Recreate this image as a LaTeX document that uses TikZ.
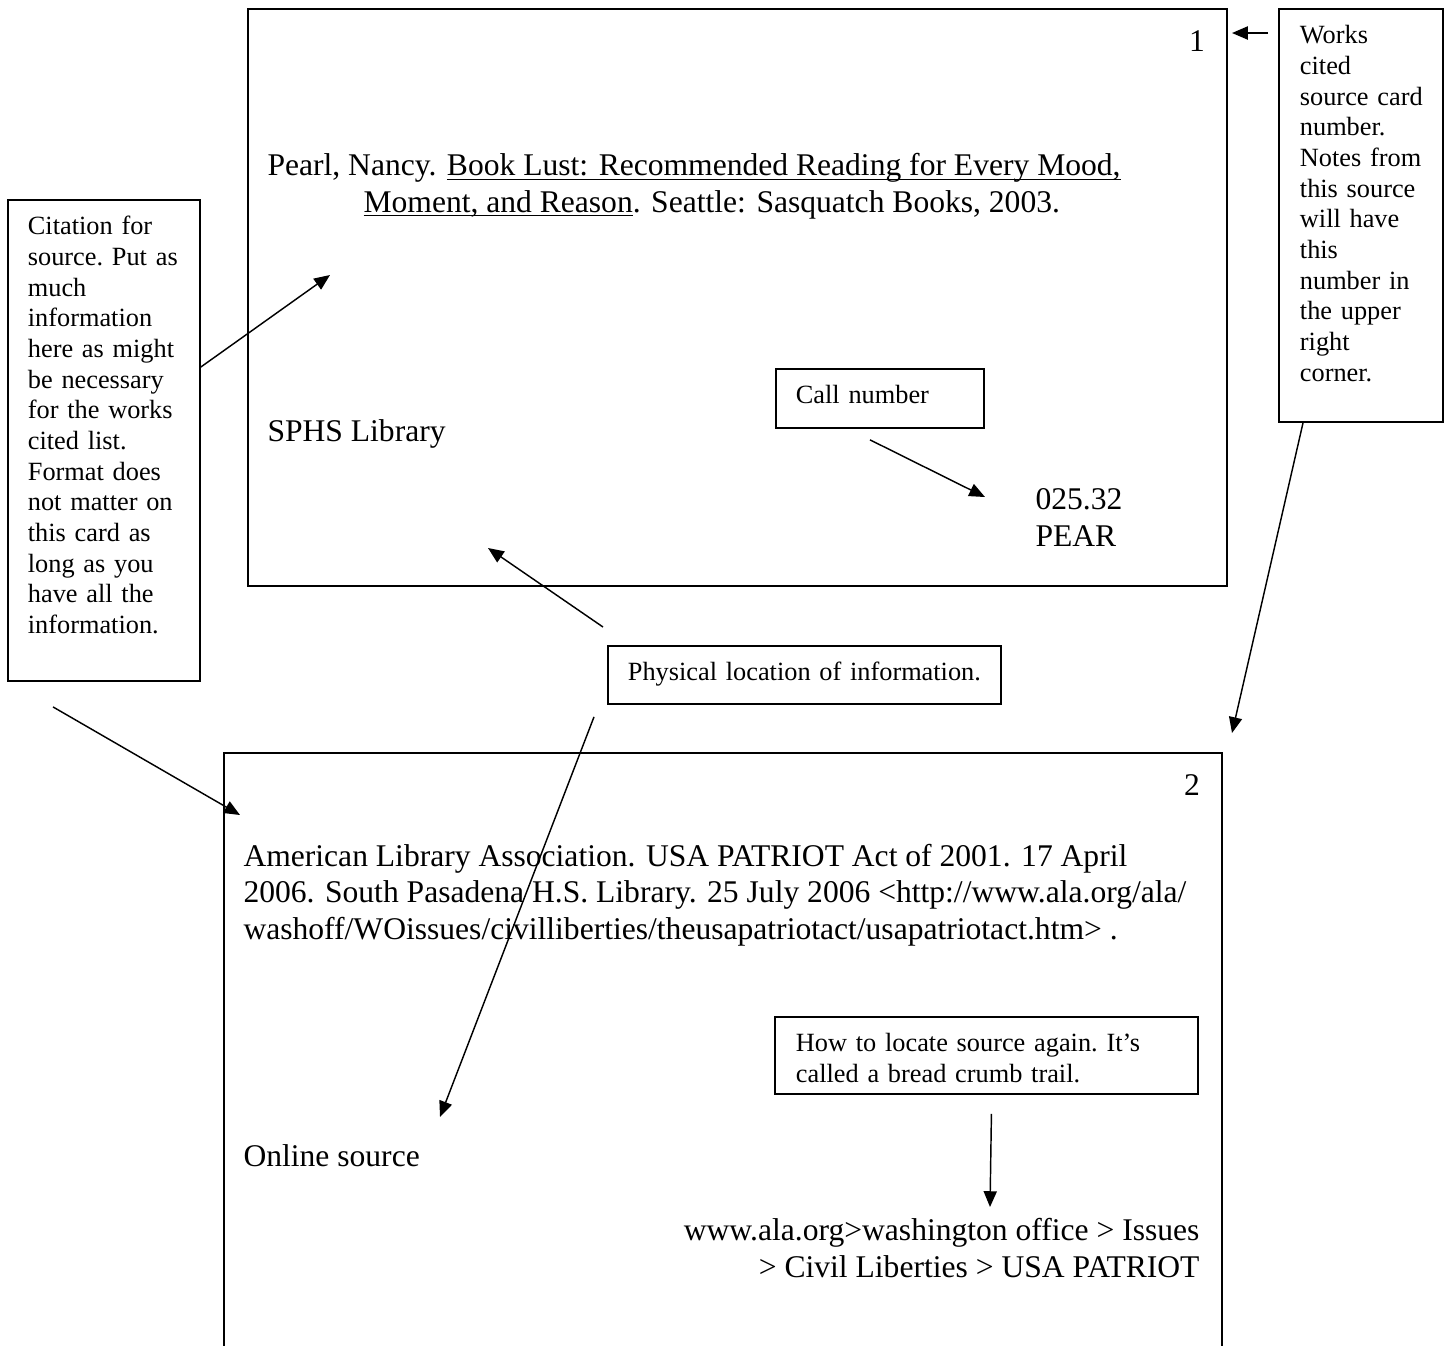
\documentclass[tikz,border=0pt]{standalone}
\usepackage{fontspec}
\setmainfont{Liberation Serif}
\usetikzlibrary{arrows.meta, positioning}
\tikzstyle{sheet}=[x=0.38pt, y=-0.38pt, >={Triangle[length=6pt, width=5pt]}]
\tikzstyle{card}=[draw, line width=0.75pt, inner sep=0pt, anchor=north west]
\tikzstyle{cardtext}=[inner sep=0pt, align=left, font=\fontsize{12}{13.8}\selectfont]
\tikzstyle{callout}=[draw, line width=0.7pt, anchor=north west, align=left,
  inner xsep=7.6pt, inner ysep=0pt, text height=13.3pt,
  font=\fontsize{10}{11.65}\selectfont\frenchspacing]
\tikzstyle{pointer}=[->, line width=0.55pt]

\begin{document}
\begin{tikzpicture}[sheet]
  \useasboundingbox (0,0) rectangle (1453,1345);
  \clip (0,0) rectangle (1453,1345);

  % the two source cards
  \node[card, minimum width=372pt, minimum height=219.3pt] (card1) at (247,8) {};
  \node[card, minimum width=379.2pt, minimum height=228pt] (card2) at (223,752) {};

  % card 1 (base = last line)
  \node[cardtext, anchor=base]      (num1)   at (1197,51)  {1};
  \node[cardtext, anchor=base west] (pearl)  at (267,212)  {Pearl, Nancy. \underline{\smash{Book Lust: Recommended Reading for Every Mood,}}\\
    \hspace*{36.5pt}\underline{\smash{Moment, and Reason}}. Seattle: Sasquatch Books, 2003.};
  \node[cardtext, anchor=base west] (sphs)   at (267,441)  {SPHS Library};
  \node[cardtext, anchor=base west] (callno) at (1035,546) {025.32\\PEAR};

  % card 2
  \node[cardtext, anchor=base]      (num2)   at (1192,795) {2};
  \node[cardtext, anchor=base west] (ala)    at (243,939)  {American Library Association. USA PATRIOT Act of 2001. 17 April\\
    2006. South Pasadena H.S. Library. 25 July 2006 <http://www.ala.org/ala/\\
    washoff/WOissues/civilliberties/theusapatriotact/usapatriotact.htm> .};
  \node[cardtext, anchor=base west] (online) at (243,1166) {Online source};
  \node[cardtext, anchor=base east, align=right] (trail) at (1200,1277) {www.ala.org>washington office > Issues\\
    > Civil Liberties > USA PATRIOT};

  % notes round the cards
  \node[callout, text width=57.76pt, text depth=169.5pt] (citebox) at (7,199)
    {Citation for\\source. Put~as\\much\\information\\here as~might\\be necessary\\for the~works\\cited list.\\Format does\\not matter~on\\this card as\\long as you\\have all the\\information.};
  \node[callout, inner xsep=7.98pt, text width=46.36pt, text depth=143.64pt] (worksbox) at (1278,8)
    {Works\\cited\\source~card\\number.\\Notes~from\\this~source\\will have\\this\\number in\\the upper\\right\\corner.};
  \node[callout, text width=63.84pt, text depth=9.12pt] (callbox) at (775,368) {Call number};
  \node[callout, text width=134.14pt, text depth=8.74pt] (physbox) at (607,645) {Physical location of information.};
  \node[callout, inner xsep=7.98pt, text width=144.78pt, text depth=15.96pt] (crumbbox) at (774,1016)
    {How to locate source again. It’s\\called a bread crumb trail.};

  % arrow tips
  \coordinate (numtip)    at (1232,33);
  \coordinate (cardtip)   at (1232,733);
  \coordinate (pearltip)  at (330,275);
  \coordinate (alatip)    at (240,815);
  \coordinate (calltip)   at (985,497);
  \coordinate (sphstip)   at (488,548);
  \coordinate (onlinetip) at (440,1117);
  \coordinate (trailtip)  at (990,1207);

  \draw[pointer] ([shift={(-10,25)}]worksbox.north west) -- (numtip);
  \draw[pointer] ([shift={(25,0)}]worksbox.south west) -- (cardtip);
  \draw[pointer] ([shift={(0,168)}]citebox.north east) -- (pearltip);
  \draw[pointer] ([shift={(46,25)}]citebox.south west) -- (alatip);
  \draw[pointer] ([shift={(95,11)}]callbox.south west) -- (calltip);
  \draw[pointer] ([shift={(-4,-18)}]physbox.north west) -- (sphstip);
  \draw[pointer] ([shift={(-13,12)}]physbox.south west) -- (onlinetip);
  \draw[pointer] ([shift={(5,19)}]crumbbox.south) -- (trailtip);
\end{tikzpicture}
\end{document}
